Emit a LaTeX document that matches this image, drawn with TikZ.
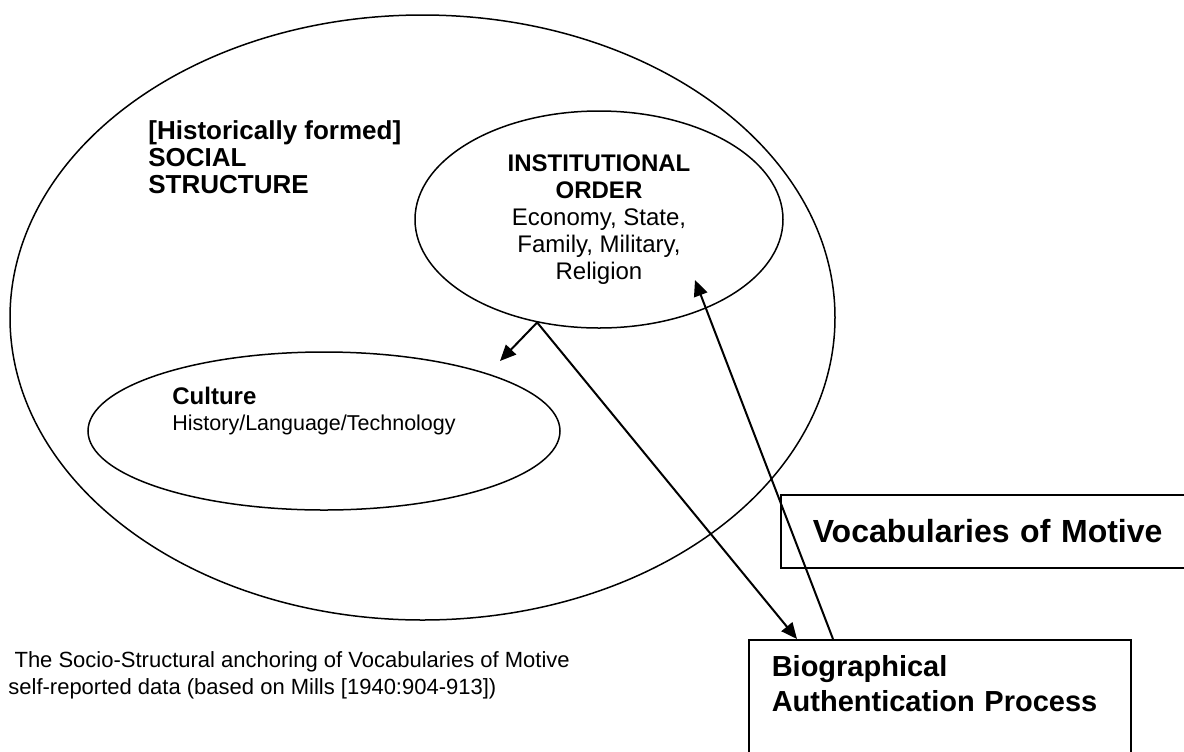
\documentclass[tikz,border=0pt]{standalone}
\usepackage{fontspec}
\setmainfont{Liberation Sans}
\usetikzlibrary{arrows.meta,calc,shapes.geometric}
\begin{document}
\begin{tikzpicture}[x=0.5pt,y=-0.5pt]
	\tikzset{oval/.style={draw,ellipse,line width=.75pt,inner sep=0pt},
		box/.style={draw,line width=.75pt,anchor=north west,align=left},
		link/.style={line width=1pt,-{Triangle[length=8pt,width=7pt]}}}
	\useasboundingbox (0,0) rectangle (1184,751);
	\clip (0,0) rectangle (1184,751);
	% the three ovals
	\node[oval,minimum width=412.5pt,minimum height=302.5pt] (social) at (422.5,317.5) {};
	\node[oval,minimum width=184pt,minimum height=108.5pt,align=center,font=\fontsize{12}{13.5}\selectfont] (inst) at (599,219.5)
		{\textbf{INSTITUTIONAL}\\\textbf{ORDER}\\Economy, State,\\Family, Military,\\Religion};
	\node[oval,minimum width=236pt,minimum height=79pt] (culture) at (324,431) {};
	\node[anchor=west,align=left,inner xsep=0pt,font=\bfseries\fontsize{13}{13.5}\selectfont] (socialtxt) at (148,157)
		{[Historically formed]\\SOCIAL\\STRUCTURE};
	\node[anchor=west,align=left,inner xsep=0pt,font=\fontsize{12}{13}\selectfont] (culturetxt) at (172,411)
		{\textbf{Culture}\\{\fontsize{10.75}{13}\selectfont History/Language/Technology}};
	% the two boxes
	\node[box,text width=190pt,inner xsep=16pt,minimum height=36.5pt,font=\bfseries\fontsize{16}{19}\selectfont] (vocab) at (780,494)
		{Vocabularies of Motive};
	\node[box,text width=168pt,inner xsep=11.5pt,inner ysep=8pt,text depth=70pt,font=\bfseries\fontsize{14.5}{17.5}\selectfont] (bio) at (748,639)
		{Biographical\\Authentication Process};
	\node[anchor=north west,align=left,inner sep=0pt,font=\fontsize{11}{13.5}\selectfont] (caption) at (8,651)
		{\hspace*{.28em}The Socio-Structural anchoring of Vocabularies of Motive\\self-reported data (based on Mills [1940:904-913])};
	% arrows
	\coordinate (culturetip) at (500,361);
	\coordinate (insttip) at (695,280);
	\draw[link] (inst.239) -- (culturetip);
	\draw[link] (inst.239) -- ($(bio.north west)+(24.5pt,0)$);
	\draw[link] ($(bio.north west)+(42.5pt,0)$) -- (insttip);
\end{tikzpicture}
\end{document}
